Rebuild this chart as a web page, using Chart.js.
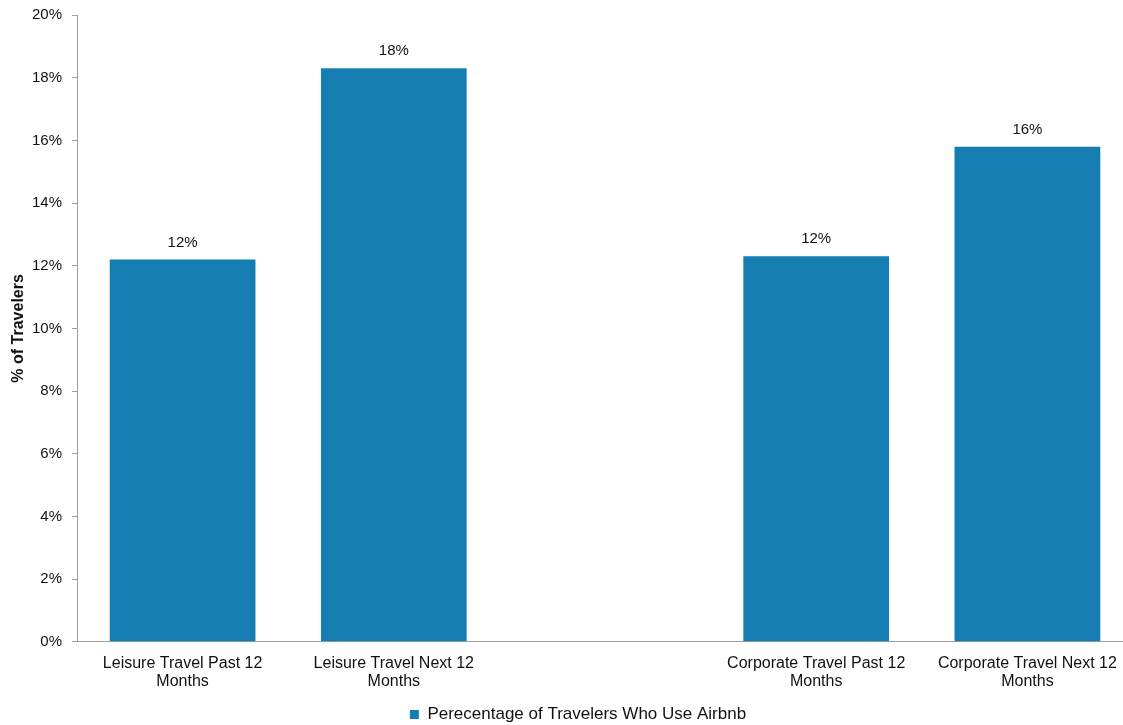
<!DOCTYPE html>
<html>
<head>
<meta charset="utf-8">
<script src="https://cdn.jsdelivr.net/npm/chart.js@4/dist/chart.umd.min.js"></script>
<style>
  html, body { margin: 0; padding: 0; background: #fff; overflow: hidden; }
  #wrap { width: 1156px; height: 725px; position: relative; }
</style>
</head>
<body>
<div id="wrap"><canvas id="chart"></canvas></div>
<script>
// Survey categories (empty slot separates leisure from corporate travel)
const categories = [
  ['Leisure Travel Past 12', 'Months'],
  ['Leisure Travel Next 12', 'Months'],
  '',
  ['Corporate Travel Past 12', 'Months'],
  ['Corporate Travel Next 12', 'Months']
];
// Share of travelers using Airbnb, in percent
const airbnbShare = [12.2, 18.3, null, 12.3, 15.8];
const seriesName = 'Perecentage of Travelers Who Use Airbnb';
const yTicks = [0, 2, 4, 6, 8, 10, 12, 14, 16, 18, 20];

const FONT = '"Liberation Sans", Arial, sans-serif';
const BAR = '#167db3';
const AXIS = '#9f9f9f';
const TEXT = '#111';

// Writes the rounded value above each bar
const valueLabels = {
  id: 'valueLabels',
  afterDatasetsDraw(chart) {
    const ctx = chart.ctx;
    ctx.save();
    ctx.font = '15px ' + FONT;
    ctx.fillStyle = TEXT;
    ctx.textAlign = 'center';
    ctx.textBaseline = 'middle';
    chart.data.datasets.forEach((ds, i) => {
      chart.getDatasetMeta(i).data.forEach((bar, j) => {
        const v = ds.data[j];
        if (v == null) return;
        ctx.fillText(Math.round(v) + '%', bar.x, bar.y - 17);
      });
    });
    ctx.restore();
  }
};

new Chart(document.getElementById('chart'), {
  type: 'bar',
  data: {
    labels: categories,
    datasets: [{
      label: seriesName,
      data: airbnbShare,
      backgroundColor: BAR,
      borderWidth: 0,
      categoryPercentage: 1,
      barPercentage: 0.69,
      yAxisID: 'y'
    }]
  },
  options: {
    responsive: true,
    maintainAspectRatio: false,
    animation: false,
    layout: { padding: { left: 0, right: 0, top: 15, bottom: -8 } },
    plugins: {
      legend: {
        position: 'bottom',
        labels: {
          font: { family: FONT, size: 17 },
          color: TEXT,
          boxWidth: 9,
          boxHeight: 9,
          padding: 4
        }
      },
      tooltip: { enabled: false }
    },
    scales: {
      x: {
        grid: { display: false },
        border: { display: true, color: AXIS, width: 1 },
        ticks: {
          font: { family: FONT, size: 16, lineHeight: 1.1 },
          color: TEXT,
          maxRotation: 0,
          autoSkip: false,
          padding: 5
        },
        afterFit(s) { s.height += 7; }
      },
      y: {
        min: 0,
        max: 20,
        afterBuildTicks(axis) { axis.ticks = yTicks.map(v => ({ value: v })); },
        afterFit(s) { s.width = 77; s.paddingTop = 0; s.paddingBottom = 0; },
        grid: { drawOnChartArea: false, drawTicks: true, tickLength: 5, color: AXIS },
        border: { display: true, color: AXIS, width: 1 },
        ticks: {
          font: { family: FONT, size: 15 },
          color: TEXT,
          padding: 10,
          callback: v => v + '%'
        },
        title: {
          display: true,
          text: '% of Travelers',
          font: { family: FONT, size: 16, weight: 'bold' },
          color: TEXT,
          padding: { top: 9, bottom: 4 }
        }
      },
      // empty right-hand gutter so the plot runs past the visible edge
      gutter: {
        type: 'linear',
        position: 'right',
        grid: { display: false },
        border: { display: false },
        ticks: { display: false },
        afterFit(s) { s.width = 23; s.paddingTop = 0; s.paddingBottom = 0; }
      }
    }
  },
  plugins: [valueLabels]
});
</script>
</body>
</html>
